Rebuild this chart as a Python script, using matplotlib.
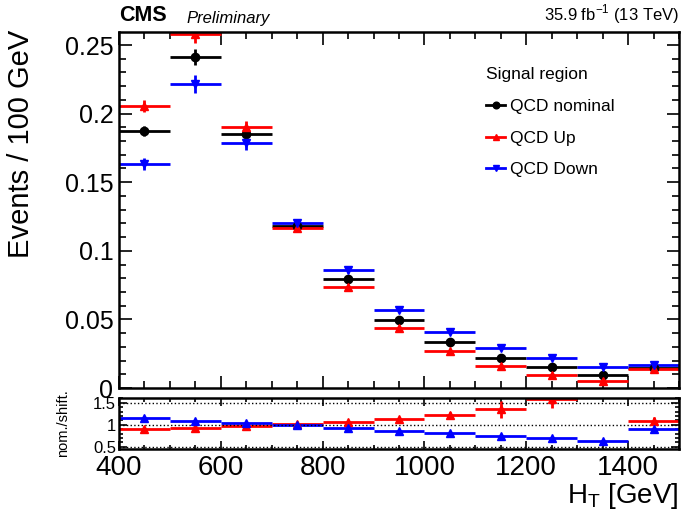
import numpy as np
import matplotlib.pyplot as plt
from matplotlib.ticker import MultipleLocator
from matplotlib.lines import Line2D

plt.rcParams['font.family'] = ['Liberation Sans', 'DejaVu Sans']

# bins in HT
bin_lo = np.arange(400, 1500, 100)
bin_c = bin_lo + 50

# events / 100 GeV
nominal = [0.1873, 0.2415, 0.1854, 0.1183, 0.0795, 0.0493, 0.0333, 0.0216, 0.0153, 0.0097, 0.0148]
qcd_up = [0.2056, 0.2578, 0.1903, 0.1169, 0.0739, 0.0435, 0.0272, 0.0160, 0.0097, 0.0053, 0.0136]
qcd_down = [0.1633, 0.2214, 0.1788, 0.1201, 0.0858, 0.0569, 0.0408, 0.0289, 0.0221, 0.0151, 0.0165]

err_nom = [0.0036, 0.0057, 0.0045, 0.0030, 0.0022, 0.0018, 0.0015, 0.0012, 0.0010, 0.0008, 0.0010]
err_up = [0.0043, 0.0060, 0.0044, 0.0030, 0.0022, 0.0018, 0.0015, 0.0012, 0.0010, 0.0008, 0.0010]
err_down = [0.0047, 0.0066, 0.0050, 0.0030, 0.0022, 0.0018, 0.0015, 0.0012, 0.0010, 0.0008, 0.0010]

# ratio errors (nom./shift.)
rerr_up = [0.02, 0.03, 0.03, 0.03, 0.04, 0.05, 0.07, 0.20, 0.19, 0.20, 0.08]
rerr_down = [0.01, 0.01, 0.01, 0.01, 0.01, 0.01, 0.01, 0.02, 0.02, 0.02, 0.02]

nominal = np.array(nominal)
qcd_up = np.array(qcd_up)
qcd_down = np.array(qcd_down)
ratio_up = nominal / qcd_up
ratio_down = nominal / qcd_down

RED = '#ff0000'
BLUE = '#0000ff'

fig = plt.figure(figsize=(6.82, 5.11), dpi=100)
ax = fig.add_axes([0.1745, 0.2407, 0.8211, 0.6967])
rax = fig.add_axes([0.1745, 0.1213, 0.8211, 0.0998])

kw = dict(capsize=0, elinewidth=2, lw=0, markersize=6)
ax.errorbar(bin_c, nominal, xerr=50, yerr=err_nom, fmt='o', color='black', **kw)
ax.errorbar(bin_c, qcd_up, xerr=50, yerr=err_up, fmt='^', color=RED, **kw)
ax.errorbar(bin_c, qcd_down, xerr=50, yerr=err_down, fmt='v', color=BLUE, **kw)

ax.set_xlim(400, 1500)
ax.set_ylim(0, 0.2595)
ax.set_xticklabels([])
ax.set_ylabel('Events / 100 GeV', fontsize=21)
ax.yaxis.set_label_coords(-0.15, 0.685)

handles = [Line2D([], [], color='black', marker='o', lw=2, markersize=6),
           Line2D([], [], color=RED, marker='^', lw=2, markersize=6),
           Line2D([], [], color=BLUE, marker='v', lw=2, markersize=6)]
leg = ax.legend(handles, ['QCD nominal', 'QCD Up', 'QCD Down'],
                loc='upper left', bbox_to_anchor=(0.64, 0.925), frameon=False, fontsize=12.5,
                title='Signal region', title_fontsize=12.5, handlelength=1.1, handletextpad=0.3,
                labelspacing=0.95, borderpad=0, markerscale=0.8)
leg._legend_box.align = 'left'

# ratio panel
rax.errorbar(bin_c, ratio_up, xerr=50, yerr=rerr_up, fmt='^', color=RED, **kw)
rax.errorbar(bin_c, ratio_down, xerr=50, yerr=rerr_down, fmt='^', color=BLUE, **kw)
for yv in [0.5, 1.0, 1.5]:
    rax.axhline(yv, color='black', ls=':', lw=1)
rax.set_xlim(400, 1500)
rax.set_ylim(0.45, 1.61)
rax.set_yticks([0.5, 1, 1.5])
rax.set_yticklabels(['0.5', '1', '1.5'])
rax.set_ylabel('nom./shift.', fontsize=10.5)
rax.yaxis.set_label_coords(-0.087, 0.5)
rax.set_xlabel('H$_{\\mathregular{T}}$ [GeV]', fontsize=20)
rax.xaxis.set_label_coords(1.0, -0.62)
rax.xaxis.label.set_ha('right')

for a in (ax, rax):
    a.xaxis.set_major_locator(MultipleLocator(200))
    a.xaxis.set_minor_locator(MultipleLocator(50))
    a.tick_params(which='both', direction='in', top=True, right=True, width=1.2)
    a.tick_params(which='major', length=9)
    a.tick_params(which='minor', length=5)
    for s in a.spines.values():
        s.set_linewidth(1.8)

ax.yaxis.set_major_locator(MultipleLocator(0.05))
ax.yaxis.set_minor_locator(MultipleLocator(0.01))
ax.set_yticks([0, 0.05, 0.1, 0.15, 0.2, 0.25])
ax.set_yticklabels(['0', '0.05', '0.1', '0.15', '0.2', '0.25'])
ax.tick_params(axis='y', labelsize=18, pad=4)
rax.yaxis.set_minor_locator(MultipleLocator(0.1))
rax.tick_params(axis='y', labelsize=12, pad=2)
rax.tick_params(which='major', length=6)
rax.tick_params(which='minor', length=3)
rax.tick_params(axis='x', labelsize=20, pad=4)

fig.text(0.1745, 0.95, 'CMS', fontsize=15.5, fontweight='bold', ha='left', va='bottom')
fig.text(0.274, 0.95, 'Preliminary', fontsize=12, style='italic', ha='left', va='bottom')
fig.text(0.9956, 0.95, '35.9 fb$^{\\mathregular{-1}}$ (13 TeV)', fontsize=12, ha='right', va='bottom')

fig.savefig('out.png', dpi=100)
